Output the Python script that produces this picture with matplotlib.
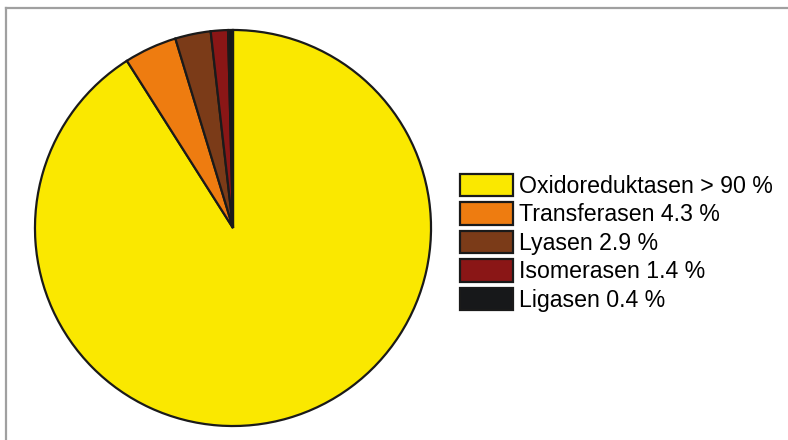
import matplotlib
matplotlib.use("Agg")
import matplotlib.pyplot as plt
from matplotlib.lines import Line2D

plt.rcParams["font.family"] = ["Liberation Sans", "DejaVu Sans"]

# enzyme classes, in legend order
names = ["Oxidoreduktasen", "Transferasen", "Lyasen", "Isomerasen", "Ligasen"]
shares = [91.0, 4.3, 2.9, 1.4, 0.4]
labels = ["Oxidoreduktasen > 90 %", "Transferasen 4.3 %", "Lyasen 2.9 %",
          "Isomerasen 1.4 %", "Ligasen 0.4 %"]
colors = ["#fae800", "#ee7c10", "#7b3b18", "#8a1616", "#17181a"]

W, H = 788, 440
fig = plt.figure(figsize=(W / 100, H / 100), dpi=100)

# pie: centre (233, 228) px, radius 200 px
cx, cy, r = 233, 228, 200
ax = fig.add_axes([(cx - r) / W, (H - cy - r) / H, 2 * r / W, 2 * r / H])
wedges, _ = ax.pie(shares, colors=colors, startangle=90, counterclock=False,
                   radius=1.0,
                   wedgeprops=dict(edgecolor="#1a1a1a", linewidth=1.6))
ax.set_xlim(-1.01, 1.01)
ax.set_ylim(-1.01, 1.01)
ax.axis("off")

fs = 16.7
fs_px = fs * 100 / 72
leg = fig.legend(wedges, labels, loc="upper left",
                 bbox_to_anchor=(455 / W, 1 - 169 / H),
                 fontsize=fs, frameon=False,
                 handlelength=53 / fs_px, handleheight=25.5 / fs_px,
                 handletextpad=6 / fs_px, labelspacing=4.6 / fs_px,
                 borderpad=0.2, borderaxespad=0)
for h in leg.legend_handles:
    h.set_linewidth(1.6)
    h.set_edgecolor("#1a1a1a")

# grey frame lines at top and left
fig.add_artist(Line2D([6 / W, 1], [1 - 8 / H, 1 - 8 / H], transform=fig.transFigure,
                      color="#a0a0a0", linewidth=1.6))
fig.add_artist(Line2D([6 / W, 6 / W], [0, 1 - 8 / H], transform=fig.transFigure,
                      color="#a0a0a0", linewidth=1.6))

fig.savefig("out.png", dpi=100)
